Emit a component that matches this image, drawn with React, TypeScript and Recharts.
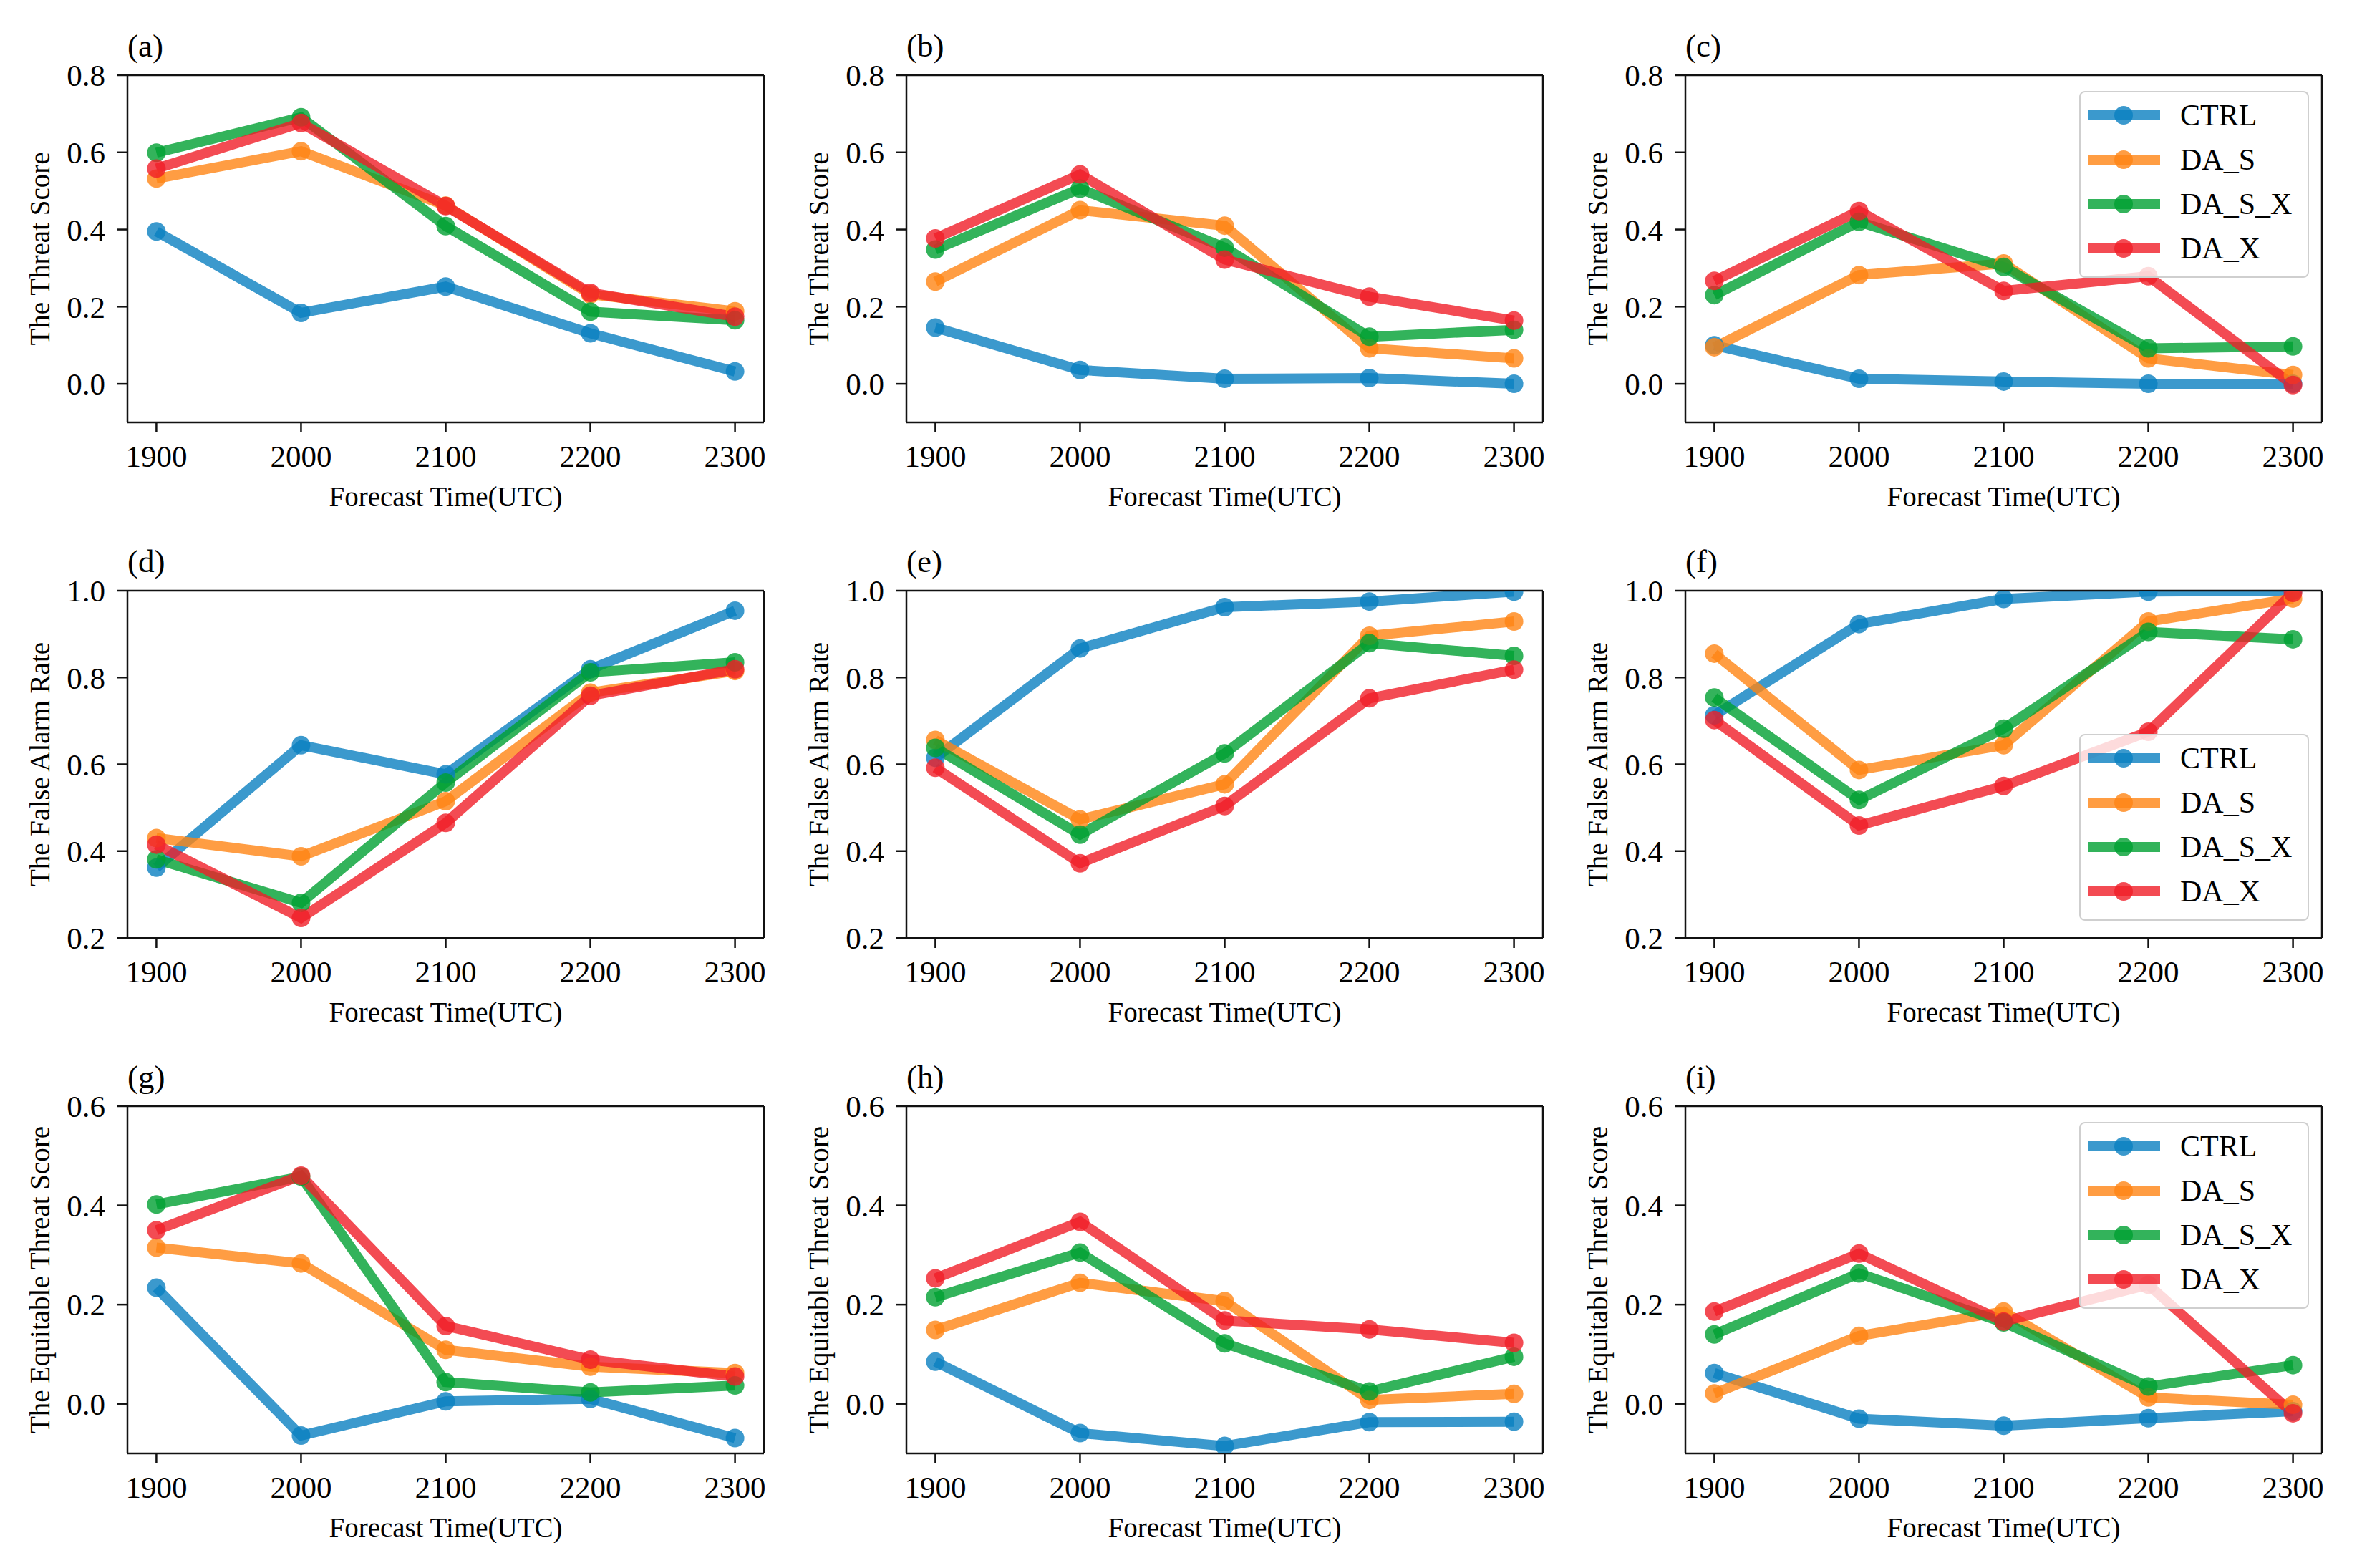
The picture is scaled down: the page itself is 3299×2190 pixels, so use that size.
import React from 'react';
import { LineChart, Line, XAxis, YAxis, Legend, ReferenceLine } from 'recharts';

// ---------- data ----------
const times = [1900, 2000, 2100, 2200, 2300];
const xTicks = [1900, 2000, 2100, 2200, 2300];
const tsTicks = [0, 0.2, 0.4, 0.6, 0.8];
const farTicks = [0.2, 0.4, 0.6, 0.8, 1.0];
const etsTicks = [0, 0.2, 0.4, 0.6];

// (a) Threat Score
const a_CTRL = [0.395, 0.184, 0.252, 0.131, 0.032];
const a_DA_S = [0.532, 0.603, 0.462, 0.232, 0.188];
const a_DA_S_X = [0.599, 0.691, 0.409, 0.187, 0.165];
const a_DA_X = [0.558, 0.676, 0.461, 0.236, 0.174];
// (b)
const b_CTRL = [0.146, 0.036, 0.013, 0.015, 0.0];
const b_DA_S = [0.265, 0.45, 0.41, 0.092, 0.066];
const b_DA_S_X = [0.348, 0.506, 0.353, 0.122, 0.14];
const b_DA_X = [0.377, 0.543, 0.322, 0.226, 0.164];
// (c)
const c_CTRL = [0.1, 0.013, 0.006, 0.0, 0.0];
const c_DA_S = [0.095, 0.282, 0.312, 0.066, 0.023];
const c_DA_S_X = [0.23, 0.42, 0.303, 0.092, 0.097];
const c_DA_X = [0.267, 0.448, 0.241, 0.279, -0.003];
// (d) False Alarm Rate
const d_CTRL = [0.362, 0.644, 0.577, 0.819, 0.954];
const d_DA_S = [0.43, 0.388, 0.515, 0.765, 0.815];
const d_DA_S_X = [0.381, 0.281, 0.558, 0.812, 0.835];
const d_DA_X = [0.415, 0.246, 0.465, 0.758, 0.819];
// (e)
const e_CTRL = [0.615, 0.867, 0.962, 0.975, 0.998];
const e_DA_S = [0.656, 0.473, 0.554, 0.896, 0.929];
const e_DA_S_X = [0.638, 0.438, 0.625, 0.879, 0.85];
const e_DA_X = [0.592, 0.372, 0.504, 0.752, 0.818];
// (f)
const f_CTRL = [0.713, 0.923, 0.981, 0.998, 1.0];
const f_DA_S = [0.855, 0.587, 0.644, 0.929, 0.982];
const f_DA_S_X = [0.754, 0.518, 0.682, 0.905, 0.888];
const f_DA_X = [0.702, 0.459, 0.55, 0.675, 0.995];
// (g) Equitable Threat Score
const g_CTRL = [0.234, -0.064, 0.005, 0.01, -0.069];
const g_DA_S = [0.315, 0.283, 0.109, 0.075, 0.062];
const g_DA_S_X = [0.402, 0.458, 0.044, 0.023, 0.037];
const g_DA_X = [0.35, 0.46, 0.157, 0.089, 0.055];
// (h)
const h_CTRL = [0.085, -0.059, -0.085, -0.037, -0.036];
const h_DA_S = [0.149, 0.244, 0.207, 0.008, 0.02];
const h_DA_S_X = [0.215, 0.305, 0.122, 0.025, 0.095];
const h_DA_X = [0.253, 0.367, 0.168, 0.15, 0.123];
// (i)
const i_CTRL = [0.062, -0.03, -0.044, -0.029, -0.015];
const i_DA_S = [0.021, 0.137, 0.186, 0.013, -0.002];
const i_DA_S_X = [0.14, 0.263, 0.164, 0.035, 0.078];
const i_DA_X = [0.186, 0.303, 0.166, 0.24, -0.019];

const seriesNames = ['CTRL', 'DA_S', 'DA_S_X', 'DA_X'];
const seriesColors = ['#0a7fc0', '#ff8514', '#00a032', '#f01e28'];

// ---------- layout / style ----------
const FONT = '"Liberation Serif", "Times New Roman", serif';
const COL_LEFT = [178, 1266, 2354];
const ROW_TOP = [105, 825, 1545];
const PLOT_W = 889;
const PLOT_H = 485;
const Y_W = 178;
const M_TOP = 105;
const M_RIGHT = 20;
const X_H = 125;
const CHART_W = Y_W + PLOT_W + M_RIGHT;
const CHART_H = M_TOP + PLOT_H + X_H;
const X_DOMAIN = [1880, 2320];
const ALPHA = 0.8;
const LW = 14;
const DOT_R = 13;
const AXIS_COLOR = '#111';

function build(vals: number[][]) {
  return times.map((t, i) => {
    const row: any = { t };
    seriesNames.forEach((n, k) => {
      row[n] = vals[k][i];
    });
    return row;
  });
}

const panels = [
  { tag: '(a)', row: 0, col: 0, data: build([a_CTRL, a_DA_S, a_DA_S_X, a_DA_X]), legend: null },
  { tag: '(b)', row: 0, col: 1, data: build([b_CTRL, b_DA_S, b_DA_S_X, b_DA_X]), legend: null },
  { tag: '(c)', row: 0, col: 2, data: build([c_CTRL, c_DA_S, c_DA_S_X, c_DA_X]), legend: 127 },
  { tag: '(d)', row: 1, col: 0, data: build([d_CTRL, d_DA_S, d_DA_S_X, d_DA_X]), legend: null },
  { tag: '(e)', row: 1, col: 1, data: build([e_CTRL, e_DA_S, e_DA_S_X, e_DA_X]), legend: null },
  { tag: '(f)', row: 1, col: 2, data: build([f_CTRL, f_DA_S, f_DA_S_X, f_DA_X]), legend: 305 },
  { tag: '(g)', row: 2, col: 0, data: build([g_CTRL, g_DA_S, g_DA_S_X, g_DA_X]), legend: null },
  { tag: '(h)', row: 2, col: 1, data: build([h_CTRL, h_DA_S, h_DA_S_X, h_DA_X]), legend: null },
  { tag: '(i)', row: 2, col: 2, data: build([i_CTRL, i_DA_S, i_DA_S_X, i_DA_X]), legend: 127 },
];

const rowCfg = [
  { domain: [-0.1, 0.8], ticks: tsTicks, label: 'The Threat Score' },
  { domain: [0.2, 1.0], ticks: farTicks, label: 'The False Alarm Rate' },
  { domain: [-0.1, 0.6], ticks: etsTicks, label: 'The Equitable Threat Score' },
];

const LegendBox = (props: any) => {
  const payload: any[] = props.payload && props.payload.length ? props.payload : seriesNames.map((n, i) => ({ value: n, color: seriesColors[i] }));
  return (
    <div
      style={{
        width: 321,
        height: 261,
        boxSizing: 'border-box',
        border: '2.5px solid #cfcfcf',
        borderRadius: 8,
        background: 'rgba(255,255,255,0.8)',
        position: 'relative',
        fontFamily: FONT,
      }}
    >
      {payload.map((p: any, i: number) => {
        const cy = 32 + 62 * i;
        return (
          <div key={p.value} style={{ position: 'absolute', left: 0, top: cy - 30, width: 316, height: 60 }}>
            <svg width={130} height={60} style={{ position: 'absolute', left: 0, top: 0 }}>
              <line x1={10} x2={111} y1={30} y2={30} stroke={p.color} strokeWidth={LW} strokeOpacity={ALPHA} />
              <circle cx={60} cy={30} r={DOT_R} fill={p.color} fillOpacity={ALPHA} />
            </svg>
            <span
              style={{
                position: 'absolute',
                left: 139,
                top: 0,
                height: 60,
                lineHeight: '60px',
                fontSize: 42,
                color: '#000',
                whiteSpace: 'nowrap',
              }}
            >
              {p.value}
            </span>
          </div>
        );
      })}
    </div>
  );
};

function Panel({ p }: { p: any }) {
  const cfg = rowCfg[p.row];
  const left = COL_LEFT[p.col] - Y_W;
  const top = ROW_TOP[p.row] - M_TOP;
  return (
    <div style={{ position: 'absolute', left, top, width: CHART_W, height: CHART_H }}>
      <LineChart
        width={CHART_W}
        height={CHART_H}
        data={p.data}
        margin={{ top: M_TOP, right: M_RIGHT, bottom: 0, left: 0 }}
      >
        <XAxis
          dataKey="t"
          type="number"
          domain={X_DOMAIN}
          ticks={xTicks}
          height={X_H}
          tickSize={14}
          tickMargin={17}
          axisLine={{ stroke: AXIS_COLOR, strokeWidth: 2.5 }}
          tickLine={{ stroke: AXIS_COLOR, strokeWidth: 2.5 }}
          tick={{ fill: '#000', fontSize: 43, fontFamily: FONT }}
          label={{
            value: 'Forecast Time(UTC)',
            position: 'insideBottom',
            offset: 8,
            style: { fill: '#000', fontSize: 39, fontFamily: FONT },
          }}
        />
        <YAxis
          type="number"
          domain={cfg.domain}
          ticks={cfg.ticks}
          allowDataOverflow
          width={Y_W}
          tickSize={14}
          tickMargin={17}
          tickFormatter={(v: number) => v.toFixed(1)}
          axisLine={{ stroke: AXIS_COLOR, strokeWidth: 2.5 }}
          tickLine={{ stroke: AXIS_COLOR, strokeWidth: 2.5 }}
          tick={{ fill: '#000', fontSize: 43, fontFamily: FONT }}
          label={{
            value: cfg.label,
            angle: -90,
            position: 'insideLeft',
            offset: 55,
            style: { fill: '#000', fontSize: 39, fontFamily: FONT, textAnchor: 'middle' },
          }}
        />
        {seriesNames.map((n, k) => (
          <Line
            key={n}
            dataKey={n}
            name={n}
            type="linear"
            stroke={seriesColors[k]}
            strokeWidth={LW}
            strokeOpacity={ALPHA}
            dot={{ r: DOT_R, fill: seriesColors[k], fillOpacity: ALPHA, stroke: 'none', strokeWidth: 0 }}
            activeDot={false}
            isAnimationActive={false}
          />
        ))}
        <ReferenceLine y={cfg.domain[1]} stroke={AXIS_COLOR} strokeWidth={2.5} ifOverflow="extendDomain" />
        <ReferenceLine x={X_DOMAIN[1]} stroke={AXIS_COLOR} strokeWidth={2.5} ifOverflow="extendDomain" />
        {p.legend !== null && (
          <Legend
            layout="vertical"
            align="center"
            verticalAlign="middle"
            wrapperStyle={{ left: 728, top: p.legend, width: 321, height: 261 }}
            content={<LegendBox />}
          />
        )}
      </LineChart>
      <div
        style={{
          position: 'absolute',
          left: Y_W,
          top: M_TOP - 63,
          fontSize: 45,
          lineHeight: '45px',
          fontFamily: FONT,
          color: '#000',
          whiteSpace: 'nowrap',
        }}
      >
        {p.tag}
      </div>
    </div>
  );
}

export default function App() {
  return (
    <div
      style={{
        position: 'absolute',
        left: 0,
        top: 0,
        width: 3299,
        height: 2190,
        background: '#fff',
        overflow: 'hidden',
      }}
    >
      {panels.map((p) => (
        <Panel key={p.tag} p={p} />
      ))}
    </div>
  );
}
